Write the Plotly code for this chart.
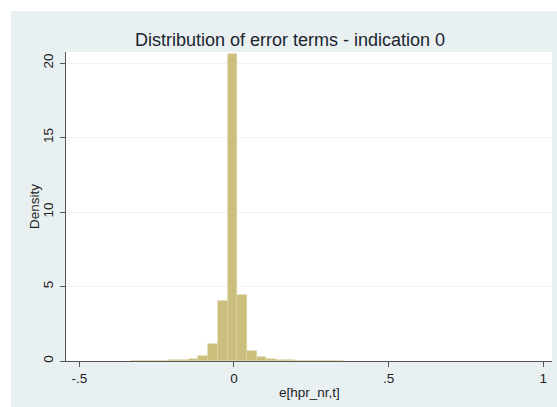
import plotly.graph_objects as go

# Histogram data (density per bin), bin centers
bin_centers = [-0.3182, -0.2869, -0.2556, -0.2243, -0.1930, -0.1617, -0.1304, -0.0991,
               -0.0678, -0.0365, -0.0052, 0.0261, 0.0574, 0.0887, 0.1200, 0.1513,
               0.1826, 0.2139, 0.2452, 0.2765, 0.3078, 0.3391]
density = [0.01, 0.015, 0.02, 0.03, 0.05, 0.10, 0.15, 0.36,
           1.17, 4.0, 20.6, 4.4, 0.7, 0.30, 0.15, 0.08,
           0.05, 0.03, 0.02, 0.015, 0.01, 0.01]
bin_width = 0.0313

x_tickvals = [-0.5, 0, 0.5, 1]
x_ticktext = ["-.5", "0", ".5", "1"]
y_tickvals = [0, 5, 10, 15, 20]
y_ticktext = ["0", "5", "10", "15", "20"]

title_text = "Distribution of error terms - indication 0"
x_title = "e[hpr_nr,t]"
y_title = "Density"

W, H = 557, 407
L, R, T, B = 66, 5, 52, 46
pw, ph = W - L - R, H - T - B

def px_x(p):
    return (p - L) / pw

def px_y(p):
    return (H - B - p) / ph

fig = go.Figure()
fig.add_trace(go.Bar(
    x=bin_centers, y=density, width=[bin_width] * len(density),
    marker=dict(color="#cbbf7e", line=dict(color="#ddd4a0", width=0.6)),
    showlegend=False, hoverinfo="skip",
))

font_family = "Liberation Sans, Arial, sans-serif"

fig.update_layout(
    width=W, height=H,
    margin=dict(l=L, r=R, t=T, b=B),
    paper_bgcolor="#e9f0f2",
    plot_bgcolor="white",
    bargap=0,
    font=dict(family=font_family, color="#222222", size=12),
    xaxis=dict(
        range=[-0.543, 1.028], tickvals=x_tickvals, ticktext=x_ticktext,
        showgrid=False, zeroline=False, showline=True, linecolor="#555555", linewidth=1,
        ticks="outside", ticklen=5, tickcolor="#555555", tickfont=dict(size=13.5),
        ticklabelstandoff=0,
    ),
    yaxis=dict(
        range=[0, 20.74], tickvals=y_tickvals, ticktext=y_ticktext, tickangle=-90,
        showgrid=True, gridcolor="#eef2f3", gridwidth=1,
        zeroline=False, showline=True, linecolor="#555555", linewidth=1,
        ticks="outside", ticklen=5, tickcolor="#555555", tickfont=dict(size=13.5),
        ticklabelstandoff=2,
    ),
    shapes=[
        dict(type="rect", xref="paper", yref="paper", layer="below",
             x0=px_x(0), x1=px_x(11), y0=px_y(H), y1=px_y(0),
             fillcolor="white", line=dict(width=0)),
        dict(type="rect", xref="paper", yref="paper", layer="below",
             x0=px_x(0), x1=px_x(W), y0=px_y(11), y1=px_y(0),
             fillcolor="white", line=dict(width=0)),
    ],
    annotations=[
        dict(text=title_text, xref="paper", yref="paper",
             x=px_x(290), y=px_y(40), xanchor="center", yanchor="middle",
             showarrow=False, font=dict(size=18, color="#1c2430")),
        dict(text=x_title, xref="paper", yref="paper",
             x=px_x(309), y=px_y(392), xanchor="center", yanchor="middle",
             showarrow=False, font=dict(size=13.5, color="#222222")),
        dict(text=y_title, xref="paper", yref="paper", textangle=-90,
             x=px_x(35), y=px_y(207), xanchor="center", yanchor="middle",
             showarrow=False, font=dict(size=13.5, color="#222222")),
    ],
)

fig.write_html("out.html")
